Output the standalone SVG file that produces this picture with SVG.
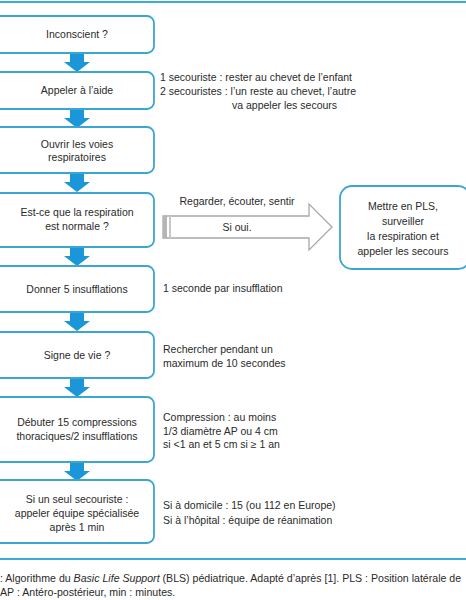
<svg xmlns="http://www.w3.org/2000/svg" width="466" height="600" viewBox="0 0 466 600">
<defs>
<style>
.box{fill:#fff;stroke:#3aa6d2;stroke-width:1.8}
.t{font-family:"Liberation Sans",Arial,sans-serif;font-size:10.5px;fill:#2a2a2a}
.c{text-anchor:middle}
.dn{fill:#1b97d9}
.rule{stroke:#3aaed6;stroke-width:2}
.cap{font-family:"Liberation Sans",Arial,sans-serif;font-size:10.6px;fill:#2a2a2a}
</style>
<path id="dnarrow" class="dn" d="M-7,0 H7 V9 H13 L0,19 L-13,9 H-7 Z"/>
</defs>
<rect width="466" height="600" fill="#fff"/>
<line class="rule" x1="0" y1="2" x2="466" y2="2"/>
<line class="rule" x1="0" y1="559" x2="466" y2="559"/>

<g id="connectors">
<use href="#dnarrow" x="77" y="53"/>
<use href="#dnarrow" x="77" y="109"/>
<use href="#dnarrow" x="77" y="173"/>
<use href="#dnarrow" x="77" y="247"/>
<use href="#dnarrow" x="77" y="312"/>
<use href="#dnarrow" x="77" y="378"/>
<use href="#dnarrow" x="77" y="462"/>
<g id="bigarrow">
<path d="M163,216 H309 V204 L332,227 L309,250 V238 H163 Z" fill="#fff" stroke="#a8a8a8" stroke-width="1.3"/>
<rect x="163" y="216" width="4" height="22" fill="#b5b5b5"/>
<rect x="169" y="216" width="2" height="22" fill="#c8c8c8"/>
<text class="t c" x="237" y="205">Regarder, écouter, sentir</text>
<text class="t c" x="237" y="231">Si oui.</text>
</g>
</g>

<g id="n1"><rect class="box" x="-8" y="16" width="162" height="37" rx="7"/><text class="t c" x="77" y="38">Inconscient ?</text></g>
<g id="n2"><rect class="box" x="-8" y="72" width="162" height="37" rx="7"/><text class="t c" x="77" y="94">Appeler à l’aide</text></g>
<g id="n3"><rect class="box" x="-8" y="127" width="162" height="46" rx="7"/><text class="t c" x="77" y="148">Ouvrir les voies</text><text class="t c" x="77" y="161">respiratoires</text></g>
<g id="n4"><rect class="box" x="-8" y="193" width="162" height="54" rx="7"/><text class="t c" x="77" y="216">Est-ce que la respiration</text><text class="t c" x="77" y="230">est normale ?</text></g>
<g id="n5"><rect class="box" x="-8" y="266" width="162" height="46" rx="7"/><text class="t c" x="77" y="293">Donner 5 insufflations</text></g>
<g id="n6"><rect class="box" x="-8" y="332" width="162" height="46" rx="7"/><text class="t c" x="77" y="359">Signe de vie ?</text></g>
<g id="n7"><rect class="box" x="-8" y="397" width="162" height="65" rx="7"/><text class="t c" x="77" y="426">Débuter 15 compressions</text><text class="t c" x="77" y="440">thoraciques/2 insufflations</text></g>
<g id="n8"><rect class="box" x="-8" y="480" width="162" height="63" rx="7"/><text class="t c" x="77" y="503">Si un seul secouriste :</text><text class="t c" x="77" y="517">appeler équipe spécialisée</text><text class="t c" x="77" y="531">après 1 min</text></g>
<g id="pls"><rect class="box" x="340" y="186" width="130" height="83" rx="12"/>
<text class="t c" x="403" y="210">Mettre en PLS,</text><text class="t c" x="403" y="225">surveiller</text><text class="t c" x="403" y="240">la respiration et</text><text class="t c" x="403" y="255">appeler les secours</text></g>

<g id="notes">
<text class="t" x="160" y="81">1 secouriste : rester au chevet de l’enfant</text>
<text class="t" x="160" y="95">2 secouristes : l’un reste au chevet, l’autre</text>
<text class="t" x="232" y="109">va appeler les secours</text>
<text class="t" x="163" y="292">1 seconde par insufflation</text>
<text class="t" x="163" y="353">Rechercher pendant un</text>
<text class="t" x="163" y="367">maximum de 10 secondes</text>
<text class="t" x="163" y="421">Compression : au moins</text>
<text class="t" x="163" y="435">1/3 diamètre AP ou 4 cm</text>
<text class="t" x="163" y="448">si &lt;1 an et 5 cm si ≥ 1 an</text>
<text class="t" x="163" y="509">Si à domicile : 15 (ou 112 en Europe)</text>
<text class="t" x="163" y="524">Si à l’hôpital : équipe de réanimation</text>
</g>

<g id="caption">
<text class="cap" x="0" y="582">: Algorithme du <tspan font-style="italic">Basic Life Support</tspan> (BLS) pédiatrique. Adapté d’après [1]. PLS : Position latérale de</text>
<text class="cap" x="0" y="596">AP : Antéro-postérieur, min : minutes.</text>
</g>
</svg>
